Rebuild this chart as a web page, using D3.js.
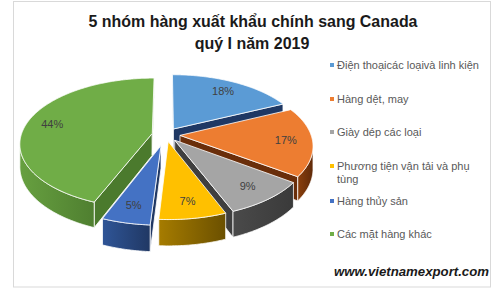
<!DOCTYPE html>
<html><head><meta charset="utf-8">
<script src="https://cdn.jsdelivr.net/npm/d3@7"></script>
<style>html,body{margin:0;padding:0;background:#fff;}svg{display:block;}</style>
</head><body>
<svg id="c" width="493" height="293"></svg>
<script>
// ---- data ----
const categories = ["Điện thoạicác loạivà linh kiện", "Hàng dệt, may", "Giày dép các loại", "Phương tiện vận tải và phụ tùng", "Hàng thủy sản", "Các mặt hàng khác"];
const values = [18, 17, 9, 7, 5, 44];
const labels = ["18%", "17%", "9%", "7%", "5%", "44%"];
const legendLines = [["Điện thoạicác loạivà linh kiện"], ["Hàng dệt, may"], ["Giày dép các loại"], ["Phương tiện vận tải và phụ", "tùng"], ["Hàng thủy sản"], ["Các mặt hàng khác"]];
const titleLines = ["5 nhóm hàng xuất khẩu chính sang Canada", "quý I năm 2019"];
const sourceText = "www.vietnamexport.com";

// ---- style ----
const topColors = ["#5b9bd5", "#ed7d31", "#a5a5a5", "#ffc000", "#4472c4", "#70ad47"];
const wallLight = ["#2e4e78", "#8a3f0c", "#4a4a4a", "#a67c00", "#2f5597", "#67a040"];
const wallDark  = ["#1f3864", "#5f2a09", "#3a3a3a", "#6b5000", "#203864", "#4f7f30"];
const radialCol = ["#1f3864", "#6a2e0a", "#3f3f3f", "#7f6000", "#203864", "#4b7a2d"];
const explode = [0.107, 0.107, 0.107, 0.107, 0.17, 0.107];

const svg = d3.select("#c");
svg.append("rect").attr("x", 13.5).attr("y", 1.5).attr("width", 477).attr("height", 285.5)
  .attr("fill", "#fff").attr("stroke", "#d9d9d9").attr("stroke-width", 1);

// title
svg.append("text").attr("x", 253).attr("y", 27).attr("text-anchor", "middle")
  .attr("font-family", "Liberation Sans, Arial, sans-serif").attr("font-weight", "bold")
  .attr("font-size", 16).attr("fill", "#1a1a1a").attr("textLength", 329).attr("lengthAdjust", "spacingAndGlyphs")
  .text(titleLines[0]);
svg.append("text").attr("x", 252).attr("y", 49).attr("text-anchor", "middle")
  .attr("font-family", "Liberation Sans, Arial, sans-serif").attr("font-weight", "bold")
  .attr("font-size", 16).attr("fill", "#1a1a1a")
  .text(titleLines[1]);

// ---- 3D pie ----
const cx = 166, cy = 134.7, rx = 131, ry = 64, h = 22, q = 0.15;
const cam = [0, 1 / q];
function P(u, v, z) {
  const f = 1 / (1 - q * v);
  return [cx + rx * u * f, cy + ry * v * f + z * h * f];
}
const pie = d3.pie().sort(null).value(d => d).startAngle(0).endAngle(2 * Math.PI);
const arcs = pie(values);
const slices = arcs.map((a, i) => {
  const mid = (a.startAngle + a.endAngle) / 2;
  const ou = explode[i] * Math.sin(mid), ov = -explode[i] * Math.cos(mid);
  const depthKey = ov - 0.5 * Math.cos(mid);
  return { i, a0: a.startAngle, a1: a.endAngle, mid, ou, ov, depthKey };
});
const line = d3.line();
const g = svg.append("g");
const defs = svg.append("defs");

function rim(s, t, z) { return P(s.ou + Math.sin(t), s.ov - Math.cos(t), z); }
function visible(px, pv, nx, nv) { return (cam[0] - px) * nx + (cam[1] - pv) * nv > 0; }

slices.slice().sort((a, b) => a.depthKey - b.depthKey).forEach(s => {
  const i = s.i;
  // radial faces
  [[s.a0, -1], [s.a1, 1]].forEach(([t, sgn]) => {
    const na = t + sgn * Math.PI / 2;
    const nx = Math.sin(na), nv = -Math.cos(na);
    if (!visible(s.ou, s.ov, nx, nv)) return;
    const pts = [P(s.ou, s.ov, 0), rim(s, t, 0), rim(s, t, 1), P(s.ou, s.ov, 1)];
    g.append("path").attr("d", line(pts) + "Z").attr("fill", radialCol[i])
      .attr("stroke", "#fff").attr("stroke-width", 0.8).attr("stroke-linejoin", "round");
  });
  // outer wall, in visible runs
  const n = Math.max(8, Math.ceil((s.a1 - s.a0) / 0.01));
  let run = [];
  const runs = [];
  for (let k = 0; k < n; k++) {
    const t0 = s.a0 + (s.a1 - s.a0) * k / n, t1 = s.a0 + (s.a1 - s.a0) * (k + 1) / n;
    const tm = (t0 + t1) / 2;
    const px = s.ou + Math.sin(tm), pv = s.ov - Math.cos(tm);
    if (visible(px, pv, Math.sin(tm), -Math.cos(tm))) {
      if (!run.length) run.push(t0);
      run.push(t1);
    } else if (run.length) { runs.push(run); run = []; }
  }
  if (run.length) runs.push(run);
  runs.forEach((r, ri) => {
    const topPts = r.map(t => rim(s, t, 0));
    const botPts = r.slice().reverse().map(t => rim(s, t, 1));
    const xs = topPts.map(p => p[0]);
    const gid = "wg" + i + "_" + ri;
    const grad = defs.append("linearGradient").attr("id", gid).attr("gradientUnits", "userSpaceOnUse")
      .attr("x1", d3.min(xs)).attr("x2", d3.max(xs)).attr("y1", 0).attr("y2", 0);
    grad.append("stop").attr("offset", 0).attr("stop-color", wallLight[i]);
    grad.append("stop").attr("offset", 1).attr("stop-color", wallDark[i]);
    g.append("path").attr("d", line(topPts.concat(botPts)) + "Z").attr("fill", "url(#" + gid + ")")
      .attr("stroke", "#fff").attr("stroke-width", 0.8).attr("stroke-linejoin", "round");
  });
  // top face
  const m = Math.max(8, Math.ceil((s.a1 - s.a0) / 0.01));
  const tp = [P(s.ou, s.ov, 0)];
  for (let k = 0; k <= m; k++) tp.push(rim(s, s.a0 + (s.a1 - s.a0) * k / m, 0));
  g.append("path").attr("d", line(tp) + "Z").attr("fill", topColors[i])
    .attr("stroke", "#fff").attr("stroke-width", 0.8).attr("stroke-linejoin", "round");
});

// labels
slices.forEach(s => {
  const r = 0.8;
  const p = P(s.ou + r * Math.sin(s.mid), s.ov - r * Math.cos(s.mid), 0);
  svg.append("text").attr("x", p[0]).attr("y", p[1] + 4).attr("text-anchor", "middle")
    .attr("font-family", "Liberation Sans, Arial, sans-serif").attr("font-size", 11)
    .attr("fill", "#404040").text(labels[s.i]);
});

// legend
const legendY = [65, 99, 132, 166, 201, 234];
const lg = svg.append("g");
categories.forEach((c, i) => {
  lg.append("rect").attr("x", 330).attr("y", legendY[i] - 2).attr("width", 4).attr("height", 4).attr("fill", topColors[i]);
  legendLines[i].forEach((t, j) => {
    lg.append("text").attr("x", 337).attr("y", legendY[i] + 4 + j * 13)
      .attr("font-family", "Liberation Sans, Arial, sans-serif").attr("font-size", 11)
      .attr("fill", "#595959").text(t);
  });
});

// source
svg.append("text").attr("x", 489).attr("y", 276).attr("text-anchor", "end")
  .attr("font-family", "Liberation Sans, Arial, sans-serif").attr("font-weight", "bold").attr("font-style", "italic")
  .attr("font-size", 13).attr("fill", "#1a1a1a").attr("textLength", 155).attr("lengthAdjust", "spacingAndGlyphs")
  .text(sourceText);
</script>
</body></html>
